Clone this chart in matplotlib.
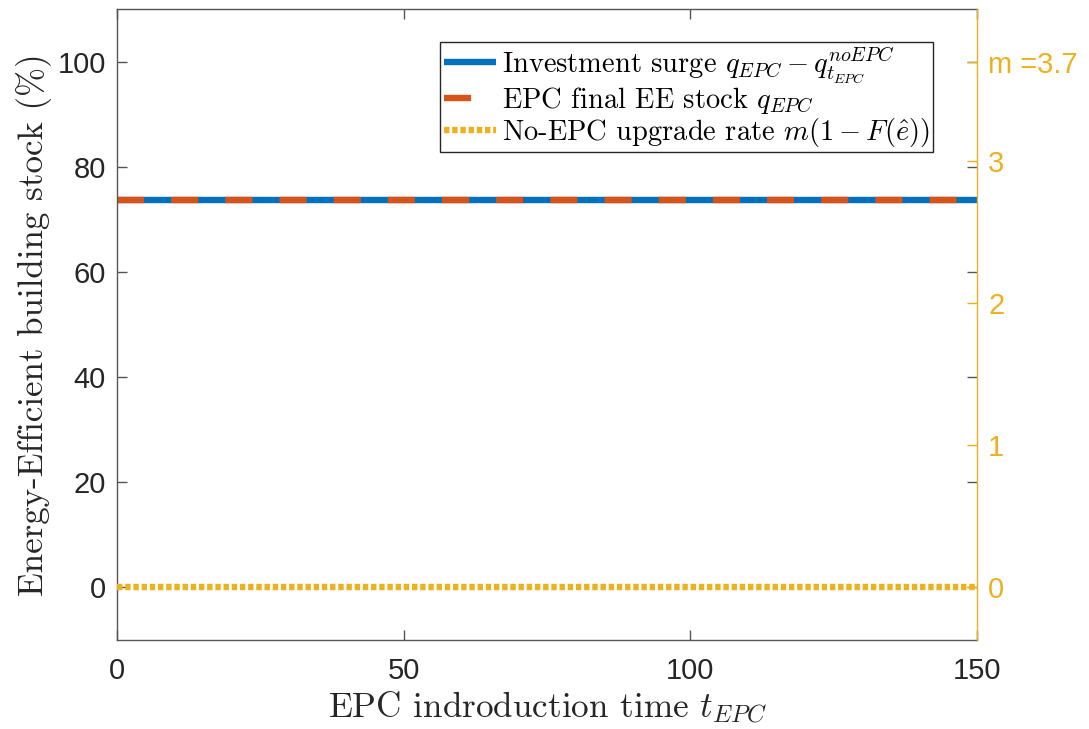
import matplotlib
matplotlib.use("Agg")
import matplotlib.pyplot as plt
import numpy as np

# ---- data ----
t_epc = [0, 50, 100, 150]
investment_surge = [73.7, 73.7, 73.7, 73.7]
final_ee_stock = [73.7, 73.7, 73.7, 73.7]
upgrade_rate = [0.0, 0.0, 0.0, 0.0]
m_value = 3.7

x_ticks = [0, 50, 100, 150]
left_ticks = [0, 20, 40, 60, 80, 100]
right_ticks = [0, 1, 2, 3, m_value]
right_labels = ['0', '1', '2', '3', 'm =3.7']

BLUE = '#0072BD'
RED = '#D95319'
YELLOW = '#EDB120'
AX = '#262626'
SPINE = '#555555'

plt.rcParams['mathtext.fontset'] = 'cm'
plt.rcParams['lines.scale_dashes'] = False
tickfont = 'Liberation Sans'
serif = 'cmr10'

fig = plt.figure(figsize=(10.89, 7.29), dpi=100)
ax = fig.add_axes([117/1089, 1-640/729, (977-117)/1089, (640-9)/729])
ax2 = ax.twinx()

lw = 4.6
l1, = ax.plot(t_epc, investment_surge, color=BLUE, lw=lw, solid_capstyle='butt')
l2, = ax.plot(t_epc, final_ee_stock, color=RED, lw=lw, dashes=(19.5, 19.5), dash_capstyle='butt')
l3, = ax2.plot(t_epc, upgrade_rate, color=YELLOW, lw=lw, dashes=(3.9, 2.0), dash_capstyle='butt', clip_on=False)

ax.set_xlim(0, 150)
ax.set_ylim(-10, 110)
ax2.set_ylim(-0.1*m_value, 1.1*m_value)

ax.set_xticks(x_ticks)
ax.set_yticks(left_ticks)
ax2.set_yticks(right_ticks)
ax2.set_yticklabels(right_labels)

ax.tick_params(axis='both', direction='in', length=7, width=1, color=SPINE,
               labelsize=21, labelcolor=AX, top=True, right=True, pad=8)
ax.tick_params(axis='x', pad=12)
ax2.tick_params(axis='y', direction='in', length=7, width=1, color=YELLOW,
                labelsize=21, labelcolor=YELLOW, pad=8)
for lab in ax.get_xticklabels() + ax.get_yticklabels() + ax2.get_yticklabels():
    lab.set_fontfamily(tickfont)

for s in ['left', 'top', 'bottom']:
    ax.spines[s].set_color(SPINE)
    ax.spines[s].set_linewidth(1.0)
ax.spines['right'].set_visible(False)
for s in ['left', 'top', 'bottom']:
    ax2.spines[s].set_visible(False)
ax2.spines['right'].set_color(YELLOW)
ax2.spines['right'].set_linewidth(1.0)

ax.set_xlabel(r'EPC indroduction time $t_{EPC}$', fontfamily=serif, fontsize=25.3, color=AX, labelpad=3)
ax.set_ylabel(r'Energy-Efficient building stock (%)', fontfamily=serif, fontsize=25.2, color=AX, labelpad=4)

leg = ax2.legend([l1, l2, l3],
                 [r'Investment surge $q_{EPC} - q^{noEPC}_{t_{EPC}}$',
                  r'EPC final EE stock $q_{EPC}$',
                  r'No-EPC upgrade rate $m(1 - F(\hat{e}))$'],
                 loc='upper right', bbox_to_anchor=(0.949, 0.948), borderaxespad=0,
                 fancybox=False, framealpha=1, edgecolor=AX,
                 prop={'family': serif, 'size': 20.5}, handlelength=1.85,
                 handletextpad=0.2, labelspacing=0.0, borderpad=0.12)
leg.get_frame().set_linewidth(1.0)

fig.savefig('out.png', dpi=100)
